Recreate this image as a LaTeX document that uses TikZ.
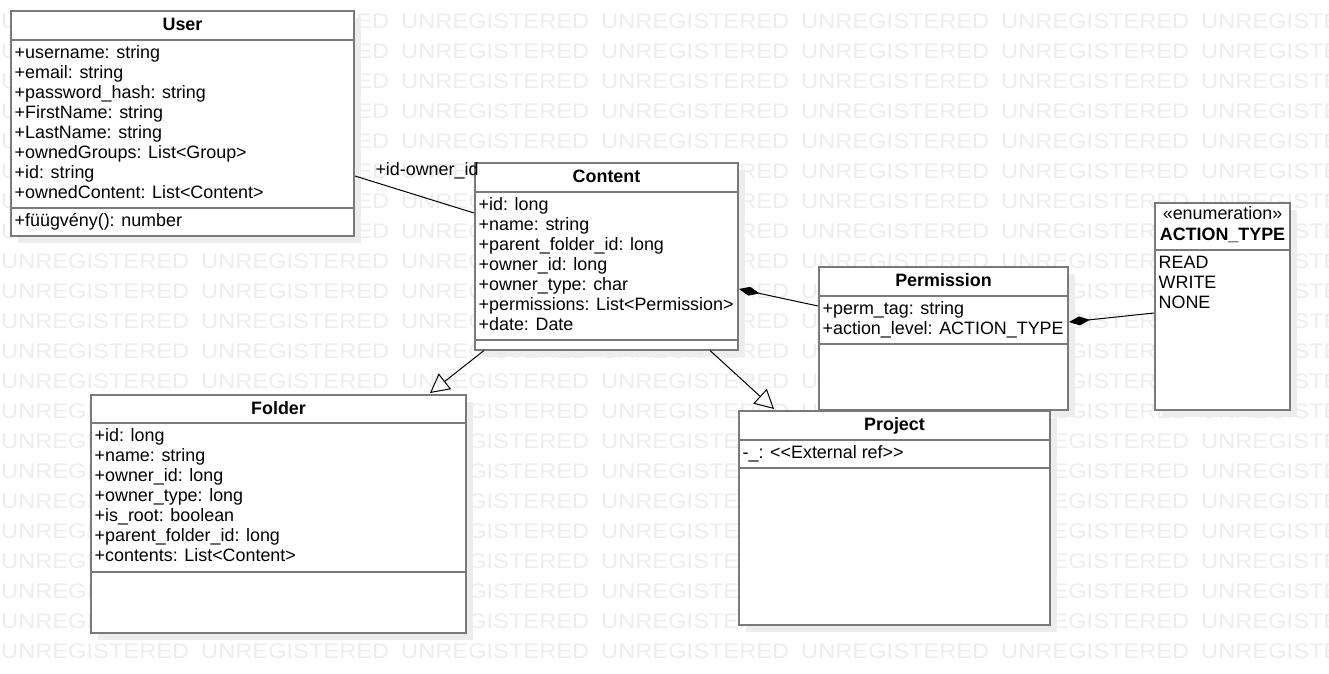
\documentclass[tikz,border=0pt]{standalone}
\usepackage{fontspec}
\setmainfont{Liberation Sans}
\usetikzlibrary{arrows.meta,calc,shadows}
\definecolor{boxgray}{HTML}{7A7A7A}
\newcommand{\umlfont}{\fontsize{17.9}{20}\selectfont}

\begin{document}
\begin{tikzpicture}[x=1pt, y=-1pt,
every node/.style={font=\umlfont},
classbox/.style={draw=boxgray, line width=2pt, fill=white, anchor=north west, inner sep=0pt,
  drop shadow={shadow xshift=7pt, shadow yshift=-7pt, fill=black!7, opacity=1}},
divider/.style={draw=boxgray, line width=2pt},
classname/.style={anchor=base, inner sep=0pt, font=\umlfont\bfseries},
member/.style={anchor=base west, inner sep=0pt},
assoc/.style={black, line width=1pt},
composite/.style={assoc, {Diamond[length=21pt, width=9pt]}-},
generalize/.style={assoc, -{Triangle[open, length=19pt, width=20pt]}},
watermark/.style={anchor=base west, inner sep=0pt, text=black!7, font=\fontsize{21}{21}\selectfont}]
    % Canvas
    \fill[white] (0,0) rectangle (1329,673);
    \useasboundingbox (0,0) rectangle (1329,673);

    % Watermark
    \foreach \row in {0,...,21}
      \foreach \col in {0,...,6}
        \node[watermark] (wm-\row-\col) at (1+200*\col, 28+30*\row) {\scalebox{1.127}[1]{UNREGISTERED}};

    % User
    \node[classbox, minimum width=343pt, minimum height=225pt] (user) at (10,10) {};
    \node[classname] (user-name) at ($(user.north)+(0,20.5)$) {User};
    \draw[divider] ($(user.north west)+(0,30)$) -- ($(user.north east)+(0,30)$);
    \draw[divider] ($(user.north west)+(0,198)$) -- ($(user.north east)+(0,198)$);
    \foreach \m [count=\i from 0] in {+username: string, +email: string, +password\_hash: string,
        +FirstName: string, +LastName: string, +ownedGroups: List<Group>, +id: string,
        +ownedContent: List<Content>}
      \node[member] (user-m\i) at ($(user.north west)+(4.5,48+20*\i)$) {\m};
    \node[member] (user-op) at ($(user.north west)+(4.5,216)$) {+füügvény(): number};

    % Content
    \node[classbox, minimum width=263pt, minimum height=186.5pt] (content) at (474,162) {};
    \node[classname] (content-name) at ($(content.north)+(0,20.5)$) {Content};
    \draw[divider] ($(content.north west)+(0,30)$) -- ($(content.north east)+(0,30)$);
    \draw[divider] ($(content.north west)+(0,178)$) -- ($(content.north east)+(0,178)$);
    \foreach \m [count=\i from 0] in {+id: long, +name: string, +parent\_folder\_id: long,
        +owner\_id: long, +owner\_type: char, +permissions: List<Permission>, +date: Date}
      \node[member] (content-m\i) at ($(content.north west)+(4.5,48+20*\i)$) {\m};

    % Permission
    \node[classbox, minimum width=249pt, minimum height=143pt] (permission) at (818,266) {};
    \node[classname] (permission-name) at ($(permission.north)+(0,20.5)$) {Permission};
    \draw[divider] ($(permission.north west)+(0,30)$) -- ($(permission.north east)+(0,30)$);
    \draw[divider] ($(permission.north west)+(0,78)$) -- ($(permission.north east)+(0,78)$);
    \foreach \m [count=\i from 0] in {+perm\_tag: string, +action\_level: ACTION\_TYPE}
      \node[member] (permission-m\i) at ($(permission.north west)+(4.5,48+20*\i)$) {\m};

    % ACTION_TYPE
    \node[classbox, minimum width=135pt, minimum height=207pt] (actiontype) at (1154,202) {};
    \node[anchor=base, inner sep=0pt] (actiontype-stereo) at ($(actiontype.north)+(0,17.5)$) {«enumeration»};
    \node[classname] (actiontype-name) at ($(actiontype.north)+(0,38)$) {ACTION\_TYPE};
    \draw[divider] ($(actiontype.north west)+(0,48)$) -- ($(actiontype.north east)+(0,48)$);
    \foreach \m [count=\i from 0] in {READ, WRITE, NONE}
      \node[member] (actiontype-m\i) at ($(actiontype.north west)+(4.5,66+20*\i)$) {\m};

    % Folder
    \node[classbox, minimum width=375pt, minimum height=238pt] (folder) at (90,394) {};
    \node[classname] (folder-name) at ($(folder.north)+(0,20.5)$) {Folder};
    \draw[divider] ($(folder.north west)+(0,29)$) -- ($(folder.north east)+(0,29)$);
    \draw[divider] ($(folder.north west)+(0,178)$) -- ($(folder.north east)+(0,178)$);
    \foreach \m [count=\i from 0] in {+id: long, +name: string, +owner\_id: long, +owner\_type: long,
        +is\_root: boolean, +parent\_folder\_id: long, +contents: List<Content>}
      \node[member] (folder-m\i) at ($(folder.north west)+(4.5,47+20*\i)$) {\m};

    % Project
    \node[classbox, minimum width=311pt, minimum height=214pt] (project) at (738,410) {};
    \node[classname] (project-name) at ($(project.north)+(0,20.5)$) {Project};
    \draw[divider] ($(project.north west)+(0,30)$) -- ($(project.north east)+(0,30)$);
    \draw[divider] ($(project.north west)+(0,58)$) -- ($(project.north east)+(0,58)$);
    \node[member] (project-m0) at ($(project.north west)+(4.5,48)$) {-\_: <{}<External ref>{}>};

    % Relations
    \draw[assoc] ($(user.north east)+(0,166)$) -- ($(content.north west)+(0,51)$)
        node[pos=0, anchor=base west, inner sep=0pt, xshift=20pt, yshift=1pt] (owner-label) {+id-owner\_id};
    \draw[composite] ($(content.north east)+(0,127)$) -- ($(permission.north west)+(0,40)$);
    \draw[composite] ($(permission.north east)+(0,56)$) -- ($(actiontype.north west)+(0,111)$);
    \draw[generalize] ($(content.south west)+(10,0)$) -- ($(folder.north west)+(340,-1)$);
    \draw[generalize] ($(content.south east)+(-29,0)$) -- ($(project.north west)+(36,-1)$);

\end{tikzpicture}
\end{document}
